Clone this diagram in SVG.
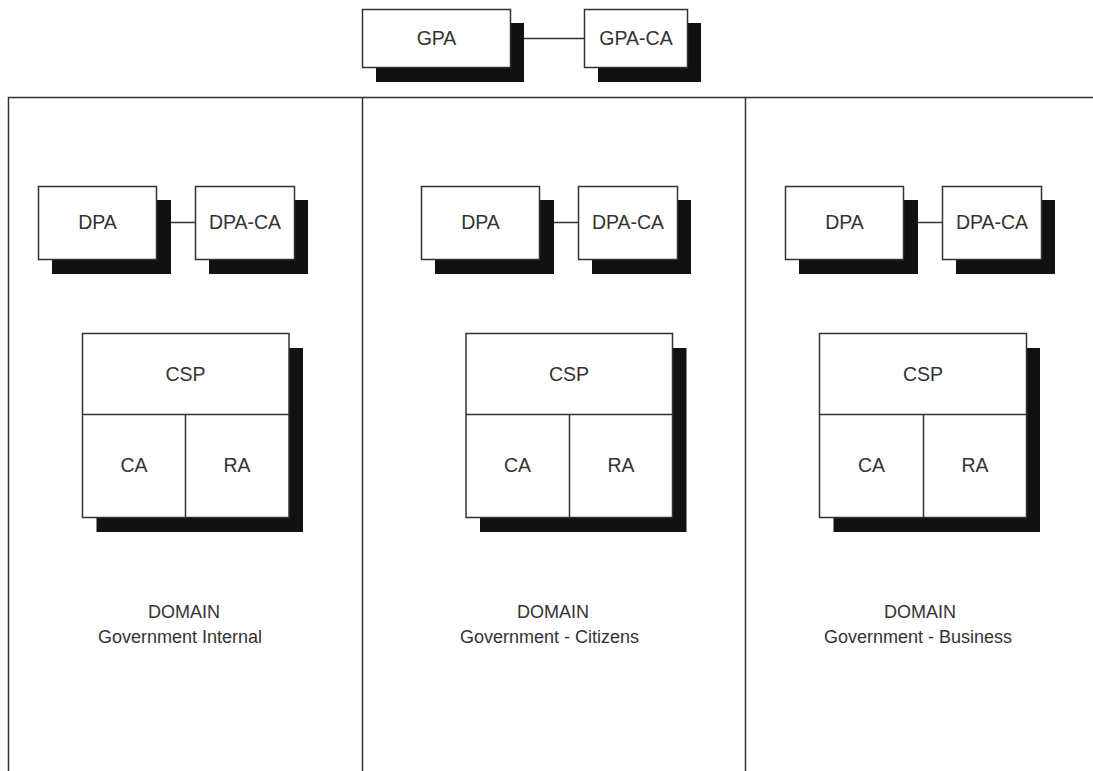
<svg xmlns="http://www.w3.org/2000/svg" width="1093" height="771" viewBox="0 0 1093 771">
<style>
.box{fill:#fff;stroke:#333;stroke-width:1.5}
.sh{fill:#111}
.ln{stroke:#333;stroke-width:1.5;fill:none}
.lbl{font-family:"Liberation Sans",Arial,sans-serif;font-size:19.5px;fill:#333;text-anchor:middle}
.dom{font-family:"Liberation Sans",Arial,sans-serif;font-size:18px;fill:#333;text-anchor:middle}
</style>
<rect width="1093" height="771" fill="#fff"/>
<g id="frame">
<path class="ln" d="M8.5 771V97.5H1093M362.5 97.5V771M745.5 97.5V771"/>
</g>
<g id="connectors">
<line class="ln" x1="524" y1="38.5" x2="584" y2="38.5"/>
<line class="ln" x1="171" y1="222.5" x2="195" y2="222.5"/>
<line class="ln" x1="554" y1="222.5" x2="578" y2="222.5"/>
<line class="ln" x1="917" y1="222.5" x2="942" y2="222.5"/>
</g>
<g id="gpa">
<rect class="sh" x="376" y="23" width="148" height="59"/>
<rect class="box" x="362.5" y="9.5" width="148" height="58"/>
<text class="lbl" x="436.5" y="45">GPA</text>
</g>
<g id="gpa-ca">
<rect class="sh" x="598" y="23" width="103" height="59"/>
<rect class="box" x="584.5" y="9.5" width="103" height="58"/>
<text class="lbl" x="636" y="45">GPA-CA</text>
</g>
<g id="dpa1">
<rect class="sh" x="52" y="200" width="119" height="74"/>
<rect class="box" x="38.5" y="186.5" width="118" height="73"/>
<text class="lbl" x="97.5" y="229">DPA</text>
</g>
<g id="dpa-ca1">
<rect class="sh" x="209" y="200" width="99" height="74"/>
<rect class="box" x="195.5" y="186.5" width="99" height="73"/>
<text class="lbl" x="245" y="229">DPA-CA</text>
</g>
<g id="dpa2">
<rect class="sh" x="435" y="200" width="119" height="74"/>
<rect class="box" x="421.5" y="186.5" width="118" height="73"/>
<text class="lbl" x="480.5" y="229">DPA</text>
</g>
<g id="dpa-ca2">
<rect class="sh" x="592" y="200" width="99" height="74"/>
<rect class="box" x="578.5" y="186.5" width="99" height="73"/>
<text class="lbl" x="628" y="229">DPA-CA</text>
</g>
<g id="dpa3">
<rect class="sh" x="799" y="200" width="119" height="74"/>
<rect class="box" x="785.5" y="186.5" width="118" height="73"/>
<text class="lbl" x="844.5" y="229">DPA</text>
</g>
<g id="dpa-ca3">
<rect class="sh" x="956" y="200" width="99" height="74"/>
<rect class="box" x="942.5" y="186.5" width="99" height="73"/>
<text class="lbl" x="992" y="229">DPA-CA</text>
</g>
<g id="csp1">
<rect class="sh" x="96.5" y="348" width="206.5" height="184"/>
<rect class="box" x="82.5" y="333.5" width="206.5" height="184"/>
<path class="ln" d="M82.5 414.5H289M185.5 414.5V517.5"/>
<text class="lbl" x="185.5" y="381">CSP</text>
<text class="lbl" x="134" y="472">CA</text>
<text class="lbl" x="237" y="472">RA</text>
</g>
<g id="csp2">
<rect class="sh" x="480" y="348" width="206.5" height="184"/>
<rect class="box" x="466" y="333.5" width="206.5" height="184"/>
<path class="ln" d="M466 414.5H672.5M569.5 414.5V517.5"/>
<text class="lbl" x="569" y="381">CSP</text>
<text class="lbl" x="517.5" y="472">CA</text>
<text class="lbl" x="621" y="472">RA</text>
</g>
<g id="csp3">
<rect class="sh" x="833.5" y="348" width="206.5" height="184"/>
<rect class="box" x="819.5" y="333.5" width="207" height="184"/>
<path class="ln" d="M819.5 414.5H1026.5M923.5 414.5V517.5"/>
<text class="lbl" x="923" y="381">CSP</text>
<text class="lbl" x="871.5" y="472">CA</text>
<text class="lbl" x="975" y="472">RA</text>
</g>
<g id="domain1">
<text class="dom" x="184" y="618">DOMAIN</text>
<text class="dom" x="180" y="643">Government Internal</text>
</g>
<g id="domain2">
<text class="dom" x="553" y="618">DOMAIN</text>
<text class="dom" x="549.5" y="643">Government - Citizens</text>
</g>
<g id="domain3">
<text class="dom" x="920" y="618">DOMAIN</text>
<text class="dom" x="918" y="643">Government - Business</text>
</g>
</svg>
